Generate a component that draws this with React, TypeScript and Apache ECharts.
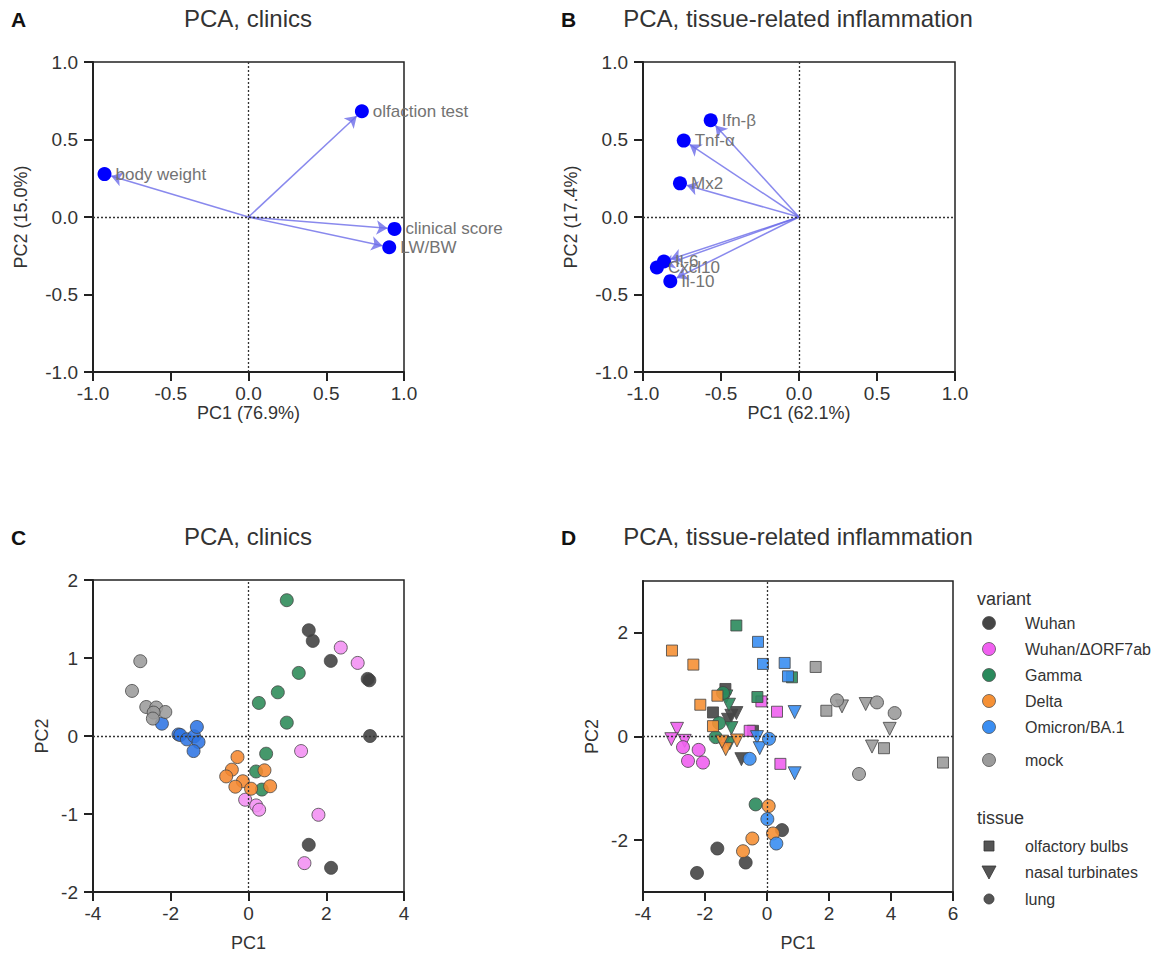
import React, { useEffect, useRef } from "react";
import * as echarts from "echarts";

const FONT = "'Liberation Sans', Arial, Helvetica, sans-serif";

// ---------- Panel A: loadings, clinics ----------
const clinicsVars = ["body weight", "olfaction test", "clinical score", "LW/BW"];
const clinicsPC1 = [-0.926, 0.729, 0.939, 0.905];
const clinicsPC2 = [0.277, 0.682, -0.077, -0.195];

// ---------- Panel B: loadings, tissue-related inflammation ----------
const inflVars = ["Ifn-β", "Tnf-α", "Mx2", "Il-6", "Cxcl10", "Il-10"];
const inflPC1 = [-0.566, -0.739, -0.763, -0.866, -0.911, -0.825];
const inflPC2 = [0.624, 0.493, 0.217, -0.287, -0.326, -0.414];

// ---------- groups ----------
const variants = ["Wuhan", "Wuhan/ΔORF7ab", "Gamma", "Delta", "Omicron/BA.1", "mock"];
const variantColorsC = ["#404040", "#f290f2", "#2b8a57", "#f5882f", "#2e74e4", "#9b9b9b"];
const variantColorsD = ["#454545", "#f060f0", "#2a8a5c", "#f59035", "#3a8ef2", "#9b9b9b"];
const tissues = ["olfactory bulbs", "nasal turbinates", "lung"];

// ---------- Panel C: scores, clinics ----------
const cWuhan = [[1.55, 1.356], [1.653, 1.219], [2.116, 0.963], [3.066, 0.732], [3.109, 0.714], [3.126, 0.0], [1.55, -1.395], [2.124, -1.69]];
const cWuhanD7 = [[2.373, 1.134], [2.809, 0.937], [1.353, -0.193], [1.799, -1.01], [1.439, -1.63], [-0.086, -0.817], [0.197, -0.89], [0.274, -0.945]];
const cGamma = [[0.985, 1.741], [1.293, 0.809], [0.754, 0.56], [0.266, 0.424], [0.985, 0.171], [0.454, -0.227], [0.195, -0.455], [0.343, -0.687]];
const cDelta = [[-0.283, -0.27], [-0.428, -0.432], [-0.574, -0.518], [-0.146, -0.58], [-0.338, -0.65], [0.066, -0.676], [0.411, -0.44], [0.557, -0.644]];
const cOmicron = [[-2.227, 0.158], [-1.8, 0.02], [-1.755, 0.013], [-1.585, -0.043], [-1.396, -0.004], [-1.328, 0.116], [-1.285, -0.077], [-1.413, -0.193]];
const cMock = [[-2.784, 0.959], [-2.997, 0.578], [-2.63, 0.372], [-2.373, 0.365], [-2.14, 0.308], [-2.44, 0.3], [-2.46, 0.223]];
const cScores = [cWuhan, cWuhanD7, cGamma, cDelta, cOmicron, cMock];

// ---------- Panel D: scores, tissue-related inflammation (bulbs, turbinates, lung) ----------
const dWuhanBulbs = [[-1.342, 0.917], [-1.742, 0.464], [-0.452, 0.11]];
const dWuhanTurb = [[-0.987, 0.452], [-1.258, 0.323], [-1.15, 0.4], [-0.826, -0.437]];
const dWuhanLung = [[0.484, -1.806], [-1.602, -2.161], [-0.688, -2.432], [-2.258, -2.632]];
const dD7Bulbs = [[-0.181, 0.677], [0.323, 0.478], [0.432, -0.528], [-0.558, 0.11]];
const dD7Turb = [[-2.903, 0.148], [-3.086, -0.052], [-2.656, -0.084], [-1.397, -0.128]];
const dD7Lung = [[-2.71, -0.206], [-2.548, -0.471], [-2.204, -0.258], [-2.065, -0.503]];
const dGammaBulbs = [[-0.989, 2.142], [-0.31, 0.762], [0.806, 1.142]];
const dGammaTurb = [[-1.312, 0.774], [-1.226, 0.613], [-1.148, 0.162], [-1.203, -0.128]];
const dGammaLung = [[-1.419, 0.839], [-1.548, 0.259], [-1.655, -0.012], [-0.366, -1.31]];
const dDeltaBulbs = [[-3.065, 1.658], [-2.376, 1.387], [-2.151, 0.613], [-1.6, 0.787], [-1.742, 0.2]];
const dDeltaTurb = [[-1.332, -0.244], [-0.968, -0.077], [-1.45, -0.1]];
const dDeltaLung = [[0.054, -1.342], [-0.473, -1.968], [0.194, -1.871], [-0.774, -2.213]];
const dOmiBulbs = [[-0.29, 1.826], [-0.129, 1.4], [0.57, 1.419], [0.677, 1.161]];
const dOmiTurb = [[0.892, 0.471], [0.892, -0.71], [-0.323, -0.012], [-0.235, -0.225]];
const dOmiLung = [[0.065, -0.045], [-0.559, -0.431], [0.011, -1.594], [0.301, -2.065]];
const dMockBulbs = [[1.57, 1.342], [1.914, 0.497], [3.774, -0.226], [5.677, -0.503]];
const dMockTurb = [[2.419, 0.581], [3.183, 0.626], [3.957, 0.148], [3.387, -0.194]];
const dMockLung = [[2.258, 0.697], [3.548, 0.658], [4.118, 0.452], [2.968, -0.723]];
const dScores = [
  [dWuhanBulbs, dWuhanTurb, dWuhanLung],
  [dD7Bulbs, dD7Turb, dD7Lung],
  [dGammaBulbs, dGammaTurb, dGammaLung],
  [dDeltaBulbs, dDeltaTurb, dDeltaLung],
  [dOmiBulbs, dOmiTurb, dOmiLung],
  [dMockBulbs, dMockTurb, dMockLung],
];

// ---------- axis ticks ----------
const loadTicks = [-1, -0.5, 0, 0.5, 1];
const cXTicks = [-4, -2, 0, 2, 4];
const cYTicks = [-2, -1, 0, 1, 2];
const dXTicks = [-4, -2, 0, 2, 4, 6];
const dYTicks = [-2, 0, 2];

const titles = ["PCA, clinics", "PCA, tissue-related inflammation", "PCA, clinics", "PCA, tissue-related inflammation"];
const panelLetters = ["A", "B", "C", "D"];
const xNames = ["PC1 (76.9%)", "PC1 (62.1%)", "PC1", "PC1"];
const yNames = ["PC2 (15.0%)", "PC2 (17.4%)", "PC2", "PC2"];

const AX = "#222";

function makeAxis(kind: "x" | "y", gi: number, ticks: number[], name: string, nameGap: number, decimals: number, labelMargin: number) {
  const min = ticks[0];
  const max = ticks[ticks.length - 1];
  const step = ticks[1] - ticks[0];
  const custom = kind === "y" && gi === 3;
  return {
    type: "value",
    gridIndex: gi,
    min: custom ? -3 : min,
    max: custom ? 3 : max,
    interval: custom ? undefined : step,
    name,
    nameLocation: "middle",
    nameGap,
    nameTextStyle: { fontSize: 18, color: "#333", fontFamily: FONT },
    axisLine: { show: true, onZero: false, lineStyle: { color: AX, width: 2 } },
    axisTick: {
      show: true,
      length: 9,
      lineStyle: { color: AX, width: 2 },
      ...(custom ? { customValues: ticks } : {}),
    },
    axisLabel: {
      color: "#333",
      fontSize: 19,
      fontFamily: FONT,
      margin: labelMargin,
      formatter: (v: number) => v.toFixed(decimals),
      ...(custom ? { customValues: ticks } : {}),
    },
    splitLine: { show: false },
  };
}

const zeroLines = {
  silent: true,
  symbol: ["none", "none"],
  label: { show: false },
  lineStyle: { type: [2, 2], color: "#333", width: 1.3 },
  emphasis: { disabled: true },
  data: [{ xAxis: 0 }, { yAxis: 0 }],
};

function arrowEnd(x: number, y: number) {
  const len = Math.sqrt(x * x + y * y);
  const f = 1 - 0.045 / len;
  return [x * f, y * f];
}

function loadingSeries(gi: number, names: string[], pc1: number[], pc2: number[]) {
  return [
    {
      type: "lines",
      coordinateSystem: "cartesian2d",
      xAxisIndex: gi,
      yAxisIndex: gi,
      symbol: ["none", "arrow"],
      symbolSize: 11,
      silent: true,
      lineStyle: { color: "#6b6be8", width: 1.5, opacity: 0.8, curveness: 0 },
      data: names.map((_, i) => ({ coords: [[0, 0], arrowEnd(pc1[i], pc2[i])] })),
      markLine: zeroLines,
      z: 2,
    },
    {
      type: "scatter",
      xAxisIndex: gi,
      yAxisIndex: gi,
      symbolSize: 14,
      itemStyle: { color: "#0000ff", opacity: 1 },
      label: {
        show: true,
        position: "right",
        distance: 4,
        color: "#737373",
        fontSize: 17,
        fontFamily: FONT,
        formatter: (p: any) => p.data[2],
      },
      data: names.map((n, i) => [pc1[i], pc2[i], n]),
      z: 3,
    },
  ];
}

export default function App() {
  const ref = useRef<HTMLDivElement>(null);

  useEffect(() => {
    document.body.style.margin = "0";
    const chart = echarts.init(ref.current!, null, { renderer: "svg" });

    const grids = [
      { left: 93, top: 62, width: 311, height: 310 },
      { left: 643, top: 62, width: 312, height: 310 },
      { left: 93, top: 580, width: 311, height: 312 },
      { left: 643, top: 581, width: 310, height: 311 },
    ].map((g) => ({ ...g, show: true, borderColor: AX, borderWidth: 1.5, backgroundColor: "transparent" }));

    const xAxis = [
      makeAxis("x", 0, loadTicks, xNames[0], 21, 1, 12),
      makeAxis("x", 1, loadTicks, xNames[1], 21, 1, 12),
      makeAxis("x", 2, cXTicks, xNames[2], 42, 0, 12),
      makeAxis("x", 3, dXTicks, xNames[3], 42, 0, 12),
    ];
    const yAxis = [
      makeAxis("y", 0, loadTicks, yNames[0], 63, 1, 15),
      makeAxis("y", 1, loadTicks, yNames[1], 63, 1, 15),
      makeAxis("y", 2, cYTicks, yNames[2], 42, 0, 15),
      makeAxis("y", 3, dYTicks, yNames[3], 42, 0, 15),
    ];

    const series: any[] = [
      ...loadingSeries(0, clinicsVars, clinicsPC1, clinicsPC2),
      ...loadingSeries(1, inflVars, inflPC1, inflPC2),
    ];

    cScores.forEach((pts, vi) => {
      series.push({
        type: "scatter",
        name: variants[vi] + " C",
        xAxisIndex: 2,
        yAxisIndex: 2,
        symbol: "circle",
        symbolSize: 13,
        itemStyle: { color: variantColorsC[vi], borderColor: "#444", borderWidth: 0.9, opacity: 0.88 },
        data: pts,
        ...(vi === 0 ? { markLine: zeroLines } : {}),
      });
    });

    const tSymbols = ["rect", "triangle", "circle"];
    const tSizes = [11, 13, 13];
    dScores.forEach((byTissue, vi) => {
      byTissue.forEach((pts, ti) => {
        series.push({
          type: "scatter",
          name: variants[vi] + " " + tissues[ti],
          xAxisIndex: 3,
          yAxisIndex: 3,
          symbol: tSymbols[ti],
          symbolRotate: ti === 1 ? 180 : 0,
          symbolSize: tSizes[ti],
          itemStyle: { color: variantColorsD[vi], borderColor: "#444", borderWidth: 0.9, opacity: 0.9 },
          data: pts,
          ...(vi === 0 && ti === 0 ? { markLine: zeroLines } : {}),
        });
      });
    });

    // ---------- texts and legend ----------
    const graphic: any[] = [];
    const titleX = [248, 798, 248, 798];
    const titleY = [18, 18, 536, 536];
    const letterX = [11, 561, 11, 561];
    titles.forEach((t, i) => {
      graphic.push({
        type: "text",
        x: titleX[i],
        y: titleY[i],
        style: { text: t, fill: "#333", fontSize: 24, fontFamily: FONT, align: "center", verticalAlign: "middle" },
      });
      graphic.push({
        type: "text",
        x: letterX[i],
        y: titleY[i] + 1,
        style: { text: panelLetters[i], fill: "#111", fontSize: 21, fontWeight: "bold", fontFamily: FONT, align: "left", verticalAlign: "middle" },
      });
    });

    const legX = 977;
    const symX = 989;
    const txtX = 1025;
    graphic.push({
      type: "text", x: legX, y: 599,
      style: { text: "variant", fill: "#333", fontSize: 18, fontFamily: FONT, align: "left", verticalAlign: "middle" },
    });
    const vY = [623, 649, 675, 701, 727, 760];
    variants.forEach((v, i) => {
      graphic.push({
        type: "circle",
        shape: { cx: symX, cy: vY[i], r: 6.5 },
        style: { fill: variantColorsD[i], stroke: "#555", lineWidth: 0.8 },
      });
      graphic.push({
        type: "text", x: txtX, y: vY[i],
        style: { text: v, fill: "#333", fontSize: 16, fontFamily: FONT, align: "left", verticalAlign: "middle" },
      });
    });
    graphic.push({
      type: "text", x: legX, y: 818,
      style: { text: "tissue", fill: "#333", fontSize: 18, fontFamily: FONT, align: "left", verticalAlign: "middle" },
    });
    const tY = [846, 872, 899];
    graphic.push({ type: "rect", shape: { x: symX - 5, y: tY[0] - 5, width: 10, height: 10 }, style: { fill: "#555", stroke: "#333", lineWidth: 0.8 } });
    graphic.push({ type: "polygon", shape: { points: [[symX - 7, tY[1] - 6], [symX + 7, tY[1] - 6], [symX, tY[1] + 7]] }, style: { fill: "#555", stroke: "#333", lineWidth: 0.8 } });
    graphic.push({ type: "circle", shape: { cx: symX, cy: tY[2], r: 5 }, style: { fill: "#555", stroke: "#333", lineWidth: 0.8 } });
    tissues.forEach((t, i) => {
      graphic.push({
        type: "text", x: txtX, y: tY[i],
        style: { text: t, fill: "#333", fontSize: 16, fontFamily: FONT, align: "left", verticalAlign: "middle" },
      });
    });

    chart.setOption({
      animation: false,
      backgroundColor: "#fff",
      textStyle: { fontFamily: FONT },
      grid: grids,
      xAxis,
      yAxis,
      series,
      graphic,
    });

    return () => chart.dispose();
  }, []);

  return <div ref={ref} style={{ width: 1160, height: 958 }} />;
}
